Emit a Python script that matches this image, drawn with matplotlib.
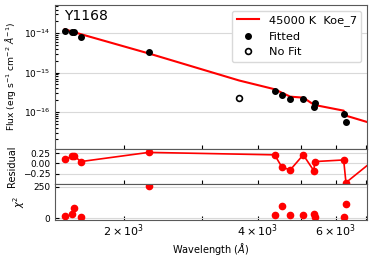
import matplotlib
matplotlib.use("Agg")
import matplotlib.pyplot as plt

# fitted photometry (last point lies just past the plotted range)
wave_fit = [1472, 1530, 1545, 1600, 2276, 4370, 4538, 4738, 5069, 5355, 5380, 6250, 6325, 7780]
flux_fit = [1.14e-14, 1.06e-14, 1.05e-14, 8.2e-15, 3.40e-15, 3.36e-16, 2.70e-16, 2.14e-16,
            2.14e-16, 1.32e-16, 1.66e-16, 8.9e-17, 5.66e-17, 4.0e-17]
resid = [0.10, 0.17, 0.19, 0.045, 0.27, 0.21, -0.09, -0.16, 0.21, -0.18, 0.045, 0.085, -0.47, 0.32]
chi2 = [18, 31, 78, 10, 258, 23, 96, 26, 23, 31, 13, 10, 115, 40]

# not fitted
wave_nofit = [3637]
flux_nofit = [2.23e-16]

# model spectrum
wave_model = [1472, 1530, 1600, 2276, 3637, 4370, 4538, 4738, 5069, 5367, 6250, 6325, 7780]
flux_model = [1.264e-14, 1.11e-14, 9.5e-15, 3.07e-15, 6.3e-16, 3.78e-16, 3.08e-16, 2.45e-16,
              2.31e-16, 1.51e-16, 1.08e-16, 8.05e-17, 4.0e-17]

star = "Y1168"
model_label = "45000 K  Koe_7"
xtick_vals = [2000, 4000, 6000]
xtick_labels = [r"$2\times10^{3}$", r"$4\times10^{3}$", r"$6\times10^{3}$"]

fig = plt.figure(figsize=(3.74, 2.59), dpi=100)
ax1 = fig.add_axes([0.147, 0.425, 0.834, 0.556])
ax2 = fig.add_axes([0.147, 0.291, 0.834, 0.134], sharex=ax1)
ax3 = fig.add_axes([0.147, 0.151, 0.834, 0.140], sharex=ax1)

ax1.plot(wave_model, flux_model, color="red", lw=1.5, label=model_label, zorder=2)
ax1.plot(wave_fit, flux_fit, "o", color="black", ms=4, label="Fitted", zorder=3)
ax1.plot(wave_nofit, flux_nofit, "o", mfc="white", mec="black", mew=1.2, ms=4.2,
         label="No Fit", zorder=3)
ax1.set_xscale("log")
ax1.set_yscale("log")
ax1.set_xlim(1400, 7050)
ax1.set_ylim(1.15e-17, 5.25e-14)
ax1.set_ylabel(r"Flux (erg s$^{-1}$ cm$^{-2}$ $\AA^{-1}$)", fontsize=6.6)
ax1.text(0.03, 0.975, star, transform=ax1.transAxes, va="top", ha="left", fontsize=10)
ax1.legend(loc="upper right", fontsize=8.2, framealpha=1, edgecolor="0.85")
ax1.grid(axis="y", which="major", color="0.85", lw=0.8)

ax2.plot(wave_fit, resid, "o-", color="red", ms=4.5, lw=1.2)
ax2.set_ylim(-0.495, 0.355)
ax2.set_yticks([-0.25, 0.0, 0.25])
ax2.set_ylabel("Residual", fontsize=7)
ax2.grid(axis="y", color="0.85", lw=0.8)

ax3.plot(wave_fit, chi2, "o", color="red", ms=4.5)
ax3.set_ylim(-13, 275)
ax3.set_yticks([0, 250])
ax3.set_ylabel(r"$\chi^2$", fontsize=7)
ax3.set_xlabel(r"Wavelength ($\AA$)", fontsize=7, labelpad=1)
ax3.grid(axis="y", color="0.85", lw=0.8)

for ax in (ax1, ax2, ax3):
    ax.set_xticks(xtick_vals, labels=xtick_labels)
    ax.set_xticks([3000, 5000, 7000], minor=True)
    ax.tick_params(which="both", direction="in", width=0.8)
    ax.tick_params(axis="y", labelsize=6.5)
    ax.tick_params(axis="x", labelsize=8, pad=2)
    ax.tick_params(which="major", length=3)
    ax.tick_params(which="minor", length=2)
    ax.tick_params(axis="x", which="minor", length=3, labelbottom=False)
    for sp in ax.spines.values():
        sp.set_color("0.35")
        sp.set_linewidth(0.8)

ax1.tick_params(axis="x", labelbottom=False)
ax2.tick_params(axis="x", labelbottom=False)

fig.savefig("out.png", dpi=100)
